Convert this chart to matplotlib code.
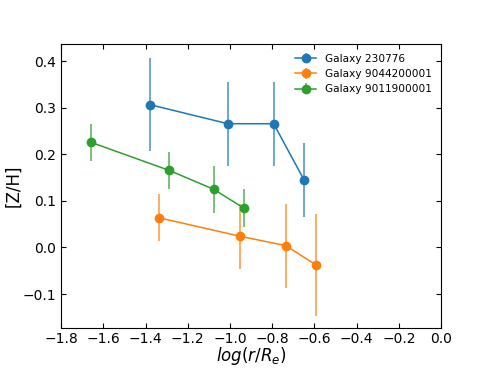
import matplotlib
matplotlib.use("Agg")
import matplotlib.pyplot as plt

names = ["Galaxy 230776", "Galaxy 9044200001", "Galaxy 9011900001"]
colors = ["#1f77b4", "#ff7f0e", "#2ca02c"]

x_230776 = [-1.38, -1.01, -0.793, -0.649]
y_230776 = [0.307, 0.266, 0.266, 0.145]
e_230776 = [0.10, 0.09, 0.09, 0.08]

x_9044 = [-1.338, -0.951, -0.736, -0.594]
y_9044 = [0.064, 0.024, 0.004, -0.037]
e_9044 = [0.05, 0.07, 0.09, 0.11]

x_9011 = [-1.659, -1.29, -1.077, -0.936]
y_9011 = [0.226, 0.166, 0.125, 0.085]
e_9011 = [0.04, 0.04, 0.05, 0.04]

xticks = [-1.8, -1.6, -1.4, -1.2, -1.0, -0.8, -0.6, -0.4, -0.2, 0.0]

fig, ax = plt.subplots(figsize=(4.9, 3.68), dpi=100)
for xs, ys, es, c, n in zip([x_230776, x_9044, x_9011],
                            [y_230776, y_9044, y_9011],
                            [e_230776, e_9044, e_9011], colors, names):
    cont = ax.errorbar(xs, ys, yerr=es, fmt='o-', color=c, label=n,
                       markersize=6, linewidth=1.1, elinewidth=1.2)
    for bl in cont[2]:
        bl.set_alpha(0.75)

ax.set_xlim(-1.8, 0.0)
ax.set_ylim(-0.172, 0.437)
ax.set_xticks(xticks)
ax.tick_params(direction='in', top=True, right=True)
ax.set_xlabel(r'$log(r/R_e)$', fontsize=12, labelpad=-1)
ax.set_ylabel('[Z/H]', fontsize=12, labelpad=0)
ax.legend(loc='upper right', frameon=False, fontsize=7.6)
fig.savefig("out.png", dpi=100)
